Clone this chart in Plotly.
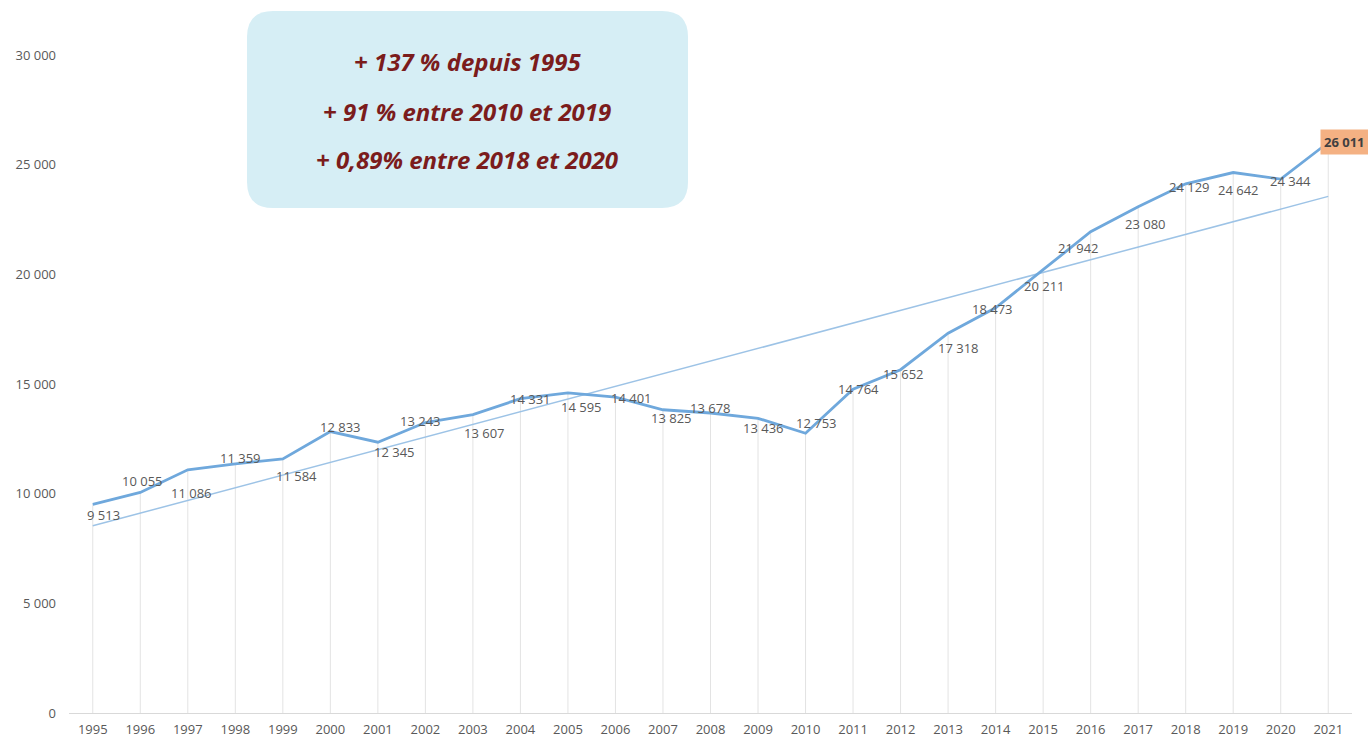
import numpy as np
import plotly.graph_objects as go

years = list(range(1995, 2022))
values = [9513, 10055, 11086, 11359, 11584, 12833, 12345, 13243, 13607, 14331,
          14595, 14401, 13825, 13678, 13436, 12753, 14764, 15652, 17318, 18473,
          20211, 21942, 23080, 24129, 24642, 24344, 26011]
y_ticks = [0, 5000, 10000, 15000, 20000, 25000, 30000]
box_lines = ["+ 137 % depuis 1995", "+ 91 % entre 2010 et 2019", "+ 0,89% entre 2018 et 2020"]

# label offsets (pixels) for data labels
label_dx = [11, 2, 4, 5, 14, 10, 17, -5, 12, 10, 14, 16, 9, 0, 5, 11, 5, 3, 10, -3, 1, -12, 7, 4, 5, 10, 16]
label_dy = [-11, 11, -23, 6, -17, 5, -10, 2, -18, 0, -14, -1, -8, 5, -10, 10, 0, -4, -15, -1, -16, -16, -17, -3, -17, -2, 0]

# linear trend
coef = np.polyfit(np.array(years, dtype=float), np.array(values, dtype=float), 1)
trend = np.polyval(coef, np.array(years, dtype=float))

W, H = 1368, 739
ML, MR, MT, MB = 69, 16, 55, 26
PW, PH = W - ML - MR, H - MT - MB

fig = go.Figure()

# drop lines
dx, dy = [], []
for yr, v in zip(years, values):
    dx += [yr, yr, None]
    dy += [0, v, None]
fig.add_trace(go.Scatter(x=dx, y=dy, mode="lines", line=dict(color="#e3e3e3", width=1),
                         hoverinfo="skip", showlegend=False))

fig.add_trace(go.Scatter(x=years, y=trend, mode="lines", line=dict(color="#9dc3e6", width=1.5),
                         hoverinfo="skip", showlegend=False))
fig.add_trace(go.Scatter(x=years, y=values, mode="lines", line=dict(color="#6fa8dc", width=2.8),
                         hoverinfo="skip", showlegend=False))

for i, (yr, v) in enumerate(zip(years, values)):
    txt = f"{v:,}".replace(",", " ")
    if i == len(years) - 1:
        fig.add_annotation(x=yr, y=v, text=f"<b>{txt}</b>", showarrow=False,
                           xshift=label_dx[i], yshift=label_dy[i],
                           font=dict(family="Open Sans", size=13, color="#404040"),
                           bgcolor="#f4b183", borderpad=3)
    else:
        fig.add_annotation(x=yr, y=v, text=txt, showarrow=False,
                           xshift=label_dx[i], yshift=label_dy[i],
                           font=dict(family="Open Sans", size=13, color="#595959"))


def px2paper(x, y):
    return (x - ML) / PW, (H - MB - y) / PH


# rounded box
x0, y0, x1, y1, r = 247, 11, 688, 208, 26
def P(x, y):
    a, b = px2paper(x, y)
    return f"{a:.5f},{b:.5f}"
path = (f"M {P(x0 + r, y0)} L {P(x1 - r, y0)} Q {P(x1, y0)} {P(x1, y0 + r)} "
        f"L {P(x1, y1 - r)} Q {P(x1, y1)} {P(x1 - r, y1)} "
        f"L {P(x0 + r, y1)} Q {P(x0, y1)} {P(x0, y1 - r)} "
        f"L {P(x0, y0 + r)} Q {P(x0, y0)} {P(x0 + r, y0)} Z")
fig.add_shape(type="path", path=path, xref="paper", yref="paper",
              fillcolor="#d6eef5", line=dict(width=0), layer="below")

for k, (line, ypx) in enumerate(zip(box_lines, [62, 111, 160])):
    ax, ay = px2paper(467, ypx)
    fig.add_annotation(x=ax, y=ay, xref="paper", yref="paper", text=f"<b><i>{line}</i></b>",
                       showarrow=False, xanchor="center", yanchor="middle",
                       font=dict(family="Open Sans", size=24, color="#7b1c1c"))

fig.update_layout(
    width=W, height=H,
    margin=dict(l=ML, r=MR, t=MT, b=MB, autoexpand=False),
    paper_bgcolor="white", plot_bgcolor="white",
    separators=", ",
    showlegend=False,
    xaxis=dict(range=[1994.5, 2021.5], tickmode="array", tickvals=years,
               ticktext=[str(y) for y in years], showgrid=False, zeroline=False,
               showline=True, linecolor="#d9d9d9", linewidth=1, ticks="",
               ticklabelstandoff=4, automargin=False,
               tickfont=dict(family="Open Sans", size=13, color="#595959")),
    yaxis=dict(range=[0, 30000], tickmode="array", tickvals=y_ticks,
               ticktext=[f"{v:,}".replace(",", " ") for v in y_ticks],
               showgrid=False, zeroline=False, showline=False, ticks="",
               ticklabelstandoff=12, automargin=False,
               tickfont=dict(family="Open Sans", size=13, color="#595959")),
)

fig.write_html("out.html", config={"displayModeBar": False},
               post_script="document.body.style.margin='0';document.body.style.overflow='hidden';")
